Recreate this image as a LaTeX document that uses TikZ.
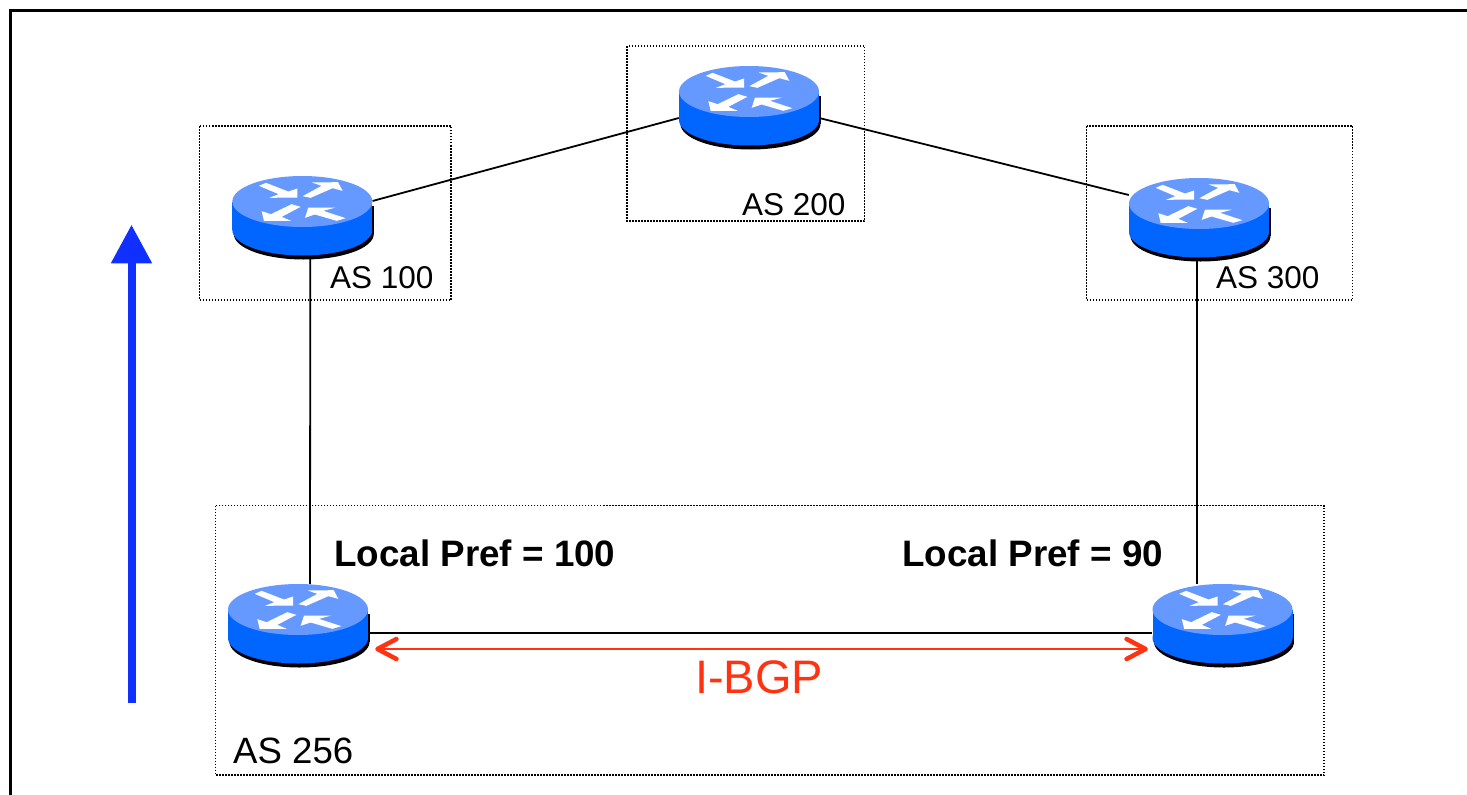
\documentclass[tikz,border=0pt]{standalone}
\usepackage{fontspec}
\setmainfont{Liberation Sans}
\usetikzlibrary{arrows.meta}
\definecolor{routertop}{HTML}{6699FF}
\definecolor{routerside}{HTML}{0066FF}
\definecolor{updateblue}{HTML}{0F30FF}
\definecolor{ibgpred}{HTML}{FF3311}
\tikzset{
  routerbox/.style={minimum width=140pt, minimum height=83pt, inner sep=0pt},
  asbox/.style={line width=1.2pt, dash pattern=on 1.5pt off 1.5pt},
  aslabel/.style={anchor=base west, inner sep=0pt, font=\fontsize{31.5}{32}\selectfont},
  preflabel/.style={anchor=base west, inner sep=0pt, font=\fontsize{36.8}{37}\selectfont\bfseries},
  pics/router/.style={code={
    \fill[black] (-68.5,-12) rectangle (71.5,16.5);
    \fill[black] (1.5,16.5) ellipse [x radius=70, y radius=25.5];
    \fill[routerside] (-70,-16) rectangle (70,12.5);
    \fill[routerside] (0,12.5) ellipse [x radius=70, y radius=25.5];
    \fill[routertop] (0,-16) ellipse [x radius=70, y radius=25.5];
    \begin{scope}[x=.3333pt, y=-.3333pt, shift={(-337,-292)}]
      \fill[white] (207,197) -- (228,188) -- (295,214) -- (322,205) -- (322,232) -- (238,233) -- (266,222) -- cycle;
      \fill[white] (338,228) -- (395,197) -- (366,187) -- (444,186) -- (458,212) -- (428,204) -- (362,233) -- cycle;
      \fill[white] (305,252) -- (332,260) -- (275,290) -- (303,302) -- (222,302) -- (215,273) -- (243,282) -- cycle;
      \fill[white] (345,293) -- (375,283) -- (440,302) -- (467,294) -- (400,272) -- (437,262) -- (355,262) -- cycle;
    \end{scope}
  }}
}
\begin{document}
\begin{tikzpicture}[x=1pt, y=-1pt]
\useasboundingbox (0,0) rectangle (1467,795);
\fill[white] (0,0) rectangle (1467,795);
\draw[line width=2.2pt] (10.5,795) -- (10.5,10.5) -- (1467,10.5);

\foreach \a/\b/\c/\d in {199.5/126/451/300, 627/46/864.5/221, 1086.5/126/1352.5/300, 215.5/505.5/1324/775} {
  \draw[asbox] (\a,\b) rectangle (\c,\d);
}

\foreach \name/\x/\y in {ras100/302.3/217.5, ras200/749/107.5, ras300/1199/219.5, ras256a/298/625.5, ras256b/1222.5/625.5} {
  \node[routerbox] (\name) at (\x,\y) {};
}

\draw[line width=1.8pt] ([yshift=16.5pt]ras100.east) -- ([yshift=-10.5pt]ras200.west);
\draw[line width=1.8pt] ([yshift=-10.5pt]ras200.east) -- ([yshift=24.5pt]ras300.west);
\draw[line width=1.8pt] ([xshift=8pt]ras100.south) -- ([xshift=12pt]ras256a.north);
\draw[line width=1.8pt] ([xshift=-2pt]ras300.south) -- ([xshift=-25.5pt]ras256b.north);
\draw[line width=1.8pt] ([yshift=-7.5pt]ras256a.east) -- ([yshift=-7.5pt]ras256b.west);

\foreach \name in {ras100,ras200,ras300,ras256a,ras256b} {
  \pic at (\name) {router};
}

\draw[ibgpred, line width=1.8pt, {Straight Barb[length=19pt, width=20pt, line width=4.5pt, round]}-{Straight Barb[length=19pt, width=20pt, line width=4.5pt, round]}]
  ([xshift=7pt, yshift=-23.5pt]ras256a.east) -- ([xshift=-4.5pt, yshift=-23.5pt]ras256b.west);

\coordinate (uptail) at (131.5,703);
\coordinate (uphead) at (131.5,224.7);
\draw[updateblue, line width=8pt, -{Triangle[length=38.6pt, width=39pt]}] (uptail) -- (uphead);

\node[aslabel] (as100) at (330,288) {AS 100};
\node[aslabel] (as200) at (742,215) {AS 200};
\node[aslabel] (as300) at (1216,288) {AS 300};
\node[aslabel, font=\fontsize{36.6}{37}\selectfont] (as256) at (233,763) {AS 256};
\node[preflabel] (pref100) at (334,566) {Local Pref = 100};
\node[preflabel] (pref90) at (902,566) {Local Pref = 90};
\node[anchor=base west, inner sep=0pt, text=ibgpred, font=\fontsize{47}{47}\selectfont] (ibgp) at (695,693) {I-BGP};
\end{tikzpicture}
\end{document}
